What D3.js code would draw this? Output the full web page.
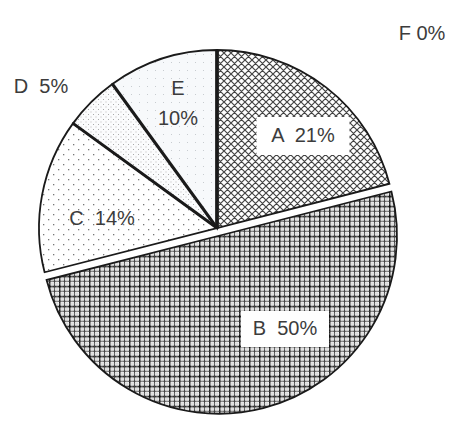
<!DOCTYPE html>
<html><head><meta charset="utf-8">
<script src="https://cdn.jsdelivr.net/npm/d3@7"></script>
<style>html,body{margin:0;padding:0;background:#fff}svg{display:block}</style>
</head><body>
<svg id="chart" width="467" height="430"></svg>
<script>
const categories = ["A","B","C","D","E","F"];
const values = [21, 50, 14, 5, 10, 0];
const labels = ["A  21%","B  50%","C  14%","D  5%","E\n10%","F 0%"];
const exploded = ["B"];

const W = 467, H = 430;
const cx = 217, cy = 228, R = 178, explode = 8;
const svg = d3.select("#chart");
const defs = svg.append("defs");

function pat(id, size, build, bg) {
  const p = defs.append("pattern").attr("id", id).attr("patternUnits","userSpaceOnUse")
    .attr("width", size).attr("height", size);
  p.append("rect").attr("width", size).attr("height", size).attr("fill", bg || "#fff");
  build(p);
}
pat("pA", 7, p => {
  p.append("path").attr("d","M0,0L7,7M7,0L0,7M-1,6L1,8M6,-1L8,1M-1,1L1,-1M6,8L8,6")
   .attr("stroke","#444").attr("stroke-width",1.2).attr("fill","none");
});
pat("pB", 10, p => {
  p.append("path").attr("d","M0.75,0V10M0,0.75H10").attr("stroke","#111").attr("stroke-width",1.5);
  p.append("path").attr("d","M5.5,0V10M0,5.5H10").attr("stroke","#444").attr("stroke-width",1.2);
  p.append("path").attr("d","M3,0V10M0,3H10M8,0V10M0,8H10").attr("stroke","#bbb").attr("stroke-width",0.6);
});
pat("pC", 10, p => {
  p.append("rect").attr("x",1).attr("y",1).attr("width",1.3).attr("height",1.3).attr("fill","#777");
  p.append("rect").attr("x",6).attr("y",6).attr("width",1.3).attr("height",1.3).attr("fill","#777");
});
pat("pD", 5, p => {
  p.append("rect").attr("x",1).attr("y",1).attr("width",1).attr("height",1).attr("fill","#aaa");
  p.append("rect").attr("x",3.5).attr("y",3.5).attr("width",1).attr("height",1).attr("fill","#bbb");
}, "#fbfcfd");
pat("pE", 8, p => {
  p.append("rect").attr("x",2).attr("y",2).attr("width",1).attr("height",1).attr("fill","#c8ccd0");
}, "#f7f9fb");
pat("pF", 4, p => {}, "#fff");

const fills = {A:"url(#pA)",B:"url(#pB)",C:"url(#pC)",D:"url(#pD)",E:"url(#pE)",F:"url(#pF)"};
const data = categories.map((c,i)=>({cat:c, value:values[i], label:labels[i]}));

const pie = d3.pie().sort(null).value(d=>d.value).startAngle(0).endAngle(2*Math.PI);
const arcs = pie(data);
const arc = d3.arc().innerRadius(0).outerRadius(R);

const g = svg.append("g").attr("transform",`translate(${cx},${cy})`);

g.selectAll("path.slice").data(arcs).enter().append("path")
  .attr("class","slice")
  .attr("d", arc)
  .attr("transform", d => {
    if (!exploded.includes(d.data.cat)) return null;
    const a = (d.startAngle + d.endAngle)/2;
    return `translate(${explode*Math.sin(a)},${-explode*Math.cos(a)})`;
  })
  .attr("fill", d => fills[d.data.cat])
  .attr("stroke","#1a1a1a")
  .attr("stroke-width", d => d.data.value === 0 ? 3.5 : 1.8)
  .attr("stroke-linejoin","miter");

const sepAngles = arcs.filter(d => ["D","E","F"].includes(d.data.cat)).map(d => d.startAngle);
g.selectAll("line.sep").data(sepAngles).enter().append("line")
  .attr("x1",0).attr("y1",0)
  .attr("x2", a => R*Math.sin(a)).attr("y2", a => -R*Math.cos(a))
  .attr("stroke","#1a1a1a").attr("stroke-width",3);

const layout = {
  A:{dx:86, dy:-86, box:[93,38]},
  B:{dx:68, dy:107, box:[88,36]},
  C:{dx:-115, dy:-3},
  D:{dx:-176, dy:-135},
  E:{dx:-39, dy:-133},
  F:{dx:205, dy:-188}
};
const fontSize = 20;
const lg = g.append("g").attr("font-family","'Liberation Sans', Arial, sans-serif")
  .attr("font-size", fontSize).attr("fill","#3c3c3c");
arcs.forEach(d => {
  const L = layout[d.data.cat];
  const lines = d.data.label.split("\n");
  if (L.box) {
    lg.append("rect").attr("x", L.dx - L.box[0]/2).attr("y", L.dy - 6 - L.box[1]/2)
      .attr("width", L.box[0]).attr("height", L.box[1]).attr("fill","#fff");
  }
  lines.forEach((t,i) => {
    lg.append("text").attr("x", L.dx).attr("y", L.dy + i*30)
      .attr("text-anchor","middle").style("white-space","pre").text(t);
  });
});
</script>
</body></html>
